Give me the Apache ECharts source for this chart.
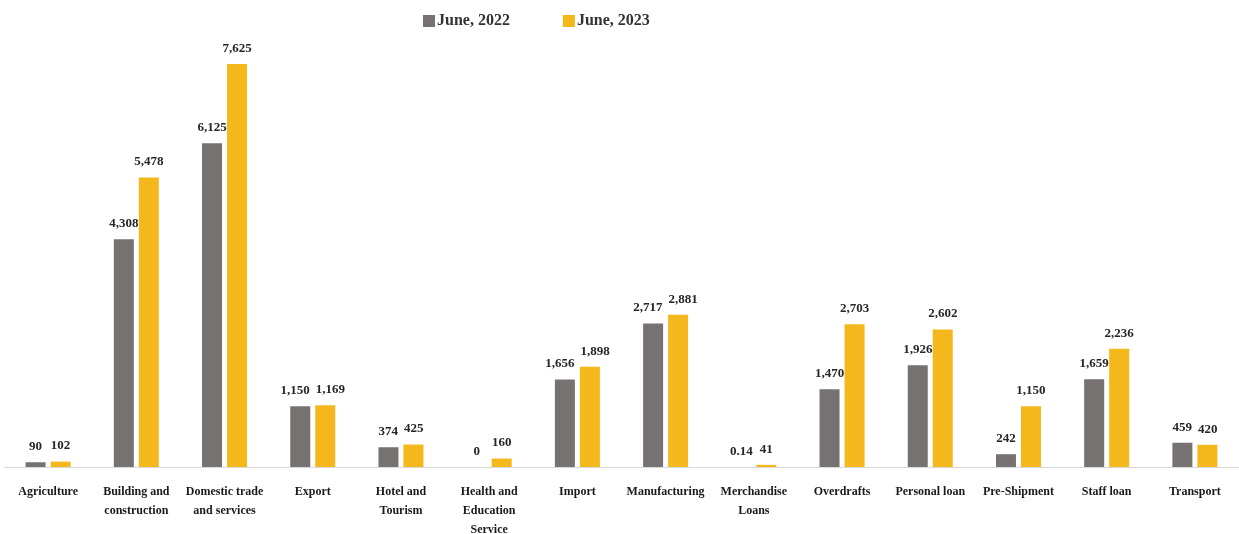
<!DOCTYPE html>
<html>
<head>
<meta charset="utf-8">
<script src="https://cdn.jsdelivr.net/npm/echarts@6/dist/echarts.min.js"></script>
<style>
  html, body { margin: 0; padding: 0; background: #ffffff; }
  #chart { width: 1239px; height: 534px; }
</style>
</head>
<body>
<div id="chart"></div>
<script>
// Loan categories (x axis)
const categories = [
  'Agriculture', 'Building and\nconstruction', 'Domestic trade\nand services', 'Export',
  'Hotel and\nTourism', 'Health and\nEducation\nService', 'Import', 'Manufacturing',
  'Merchandise\nLoans', 'Overdrafts', 'Personal loan', 'Pre-Shipment', 'Staff loan', 'Transport'
];
// Balances by category
const june2022 = [90, 4308, 6125, 1150, 374, 0, 1656, 2717, 0.14, 1470, 1926, 242, 1659, 459];
const june2023 = [102, 5478, 7625, 1169, 425, 160, 1898, 2881, 41, 2703, 2602, 1150, 2236, 420];
const seriesNames = ['June, 2022', 'June, 2023'];
const allSeries = [june2022, june2023];

const FONT = '"Liberation Serif", serif';
const GRAY = '#767272';
const GOLD = '#F4B81C';
const LABEL_SIZE = 13;

const fmt = v => v.toLocaleString('en-US');

// Text width helper for spreading apart value labels that would collide
const measureCtx = document.createElement('canvas').getContext('2d');
measureCtx.font = 'bold ' + LABEL_SIZE + 'px ' + FONT;
const textWidth = s => measureCtx.measureText(s).width;

const chart = echarts.init(document.getElementById('chart'), null, { renderer: 'canvas' });

// Push the pair of labels in a category sideways when they would overlap
function spreadLabels(params) {
  const i = params.dataIndex;
  const s = params.seriesIndex;
  const a = allSeries[0][i], b = allSeries[1][i];
  const pa = chart.convertToPixel({ gridIndex: 0 }, [i, a]);
  const pb = chart.convertToPixel({ gridIndex: 0 }, [i, b]);
  const vertGap = Math.abs(pa[1] - pb[1]);
  const half = (textWidth(fmt(a)) + textWidth(fmt(b))) / 2;
  const centerGap = 25;
  const need = half + 6 - centerGap;
  if (vertGap < 14 && need > 0) {
    return { dx: (s === 0 ? -1 : 1) * need / 2 };
  }
  return {};
}

const labelCfg = {
  show: true,
  position: 'top',
  distance: 9,
  color: '#262626',
  fontFamily: FONT,
  fontWeight: 'bold',
  fontSize: LABEL_SIZE,
  formatter: p => fmt(p.value)
};

chart.setOption({
  animation: false,
  backgroundColor: '#ffffff',
  legend: {
    top: 8,
    left: 418,
    itemGap: 53,
    itemWidth: 12,
    itemHeight: 12,
    icon: 'rect',
    textStyle: { fontFamily: FONT, fontWeight: 'bold', fontSize: 16, color: '#333333', padding: [0, 0, 0, -3] },
    data: seriesNames
  },
  grid: { left: 4, right: 0, top: 64, bottom: 67, containLabel: false, outerBoundsMode: 'none' },
  xAxis: {
    type: 'category',
    data: categories,
    axisLine: { show: true, lineStyle: { color: '#d9d9d9', width: 1 } },
    axisTick: { show: false },
    axisLabel: {
      interval: 0,
      margin: 15,
      color: '#1a1a1a',
      fontFamily: FONT,
      fontWeight: 'bold',
      fontSize: 12,
      lineHeight: 19
    }
  },
  yAxis: {
    type: 'value',
    min: 0,
    max: 7625,
    show: false,
    splitLine: { show: false }
  },
  series: [
    {
      name: seriesNames[0],
      type: 'bar',
      data: june2022,
      barWidth: 20,
      barGap: '25%',
      itemStyle: { color: GRAY },
      label: labelCfg,
      labelLayout: spreadLabels
    },
    {
      name: seriesNames[1],
      type: 'bar',
      data: june2023,
      barWidth: 20,
      barGap: '25%',
      itemStyle: { color: GOLD },
      label: labelCfg,
      labelLayout: spreadLabels
    }
  ]
});
</script>
</body>
</html>
